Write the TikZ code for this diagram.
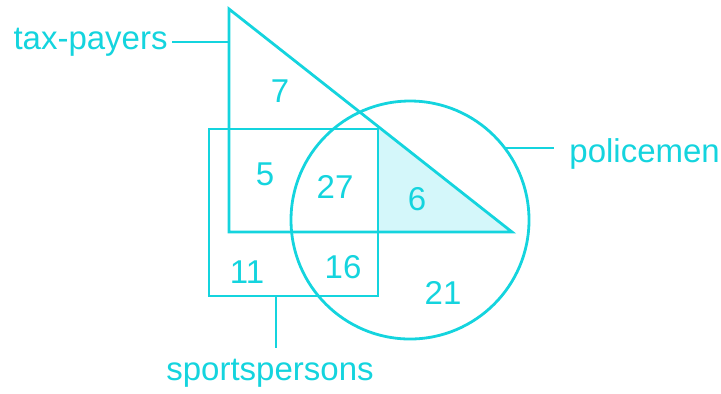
\documentclass[tikz,border=0pt]{standalone}
\usepackage{fontspec}
\setmainfont{Liberation Sans}
\usepackage{xcolor}
\definecolor{venncyan}{RGB}{20, 212, 222}
\definecolor{vennfill}{RGB}{212, 247, 250}
\usetikzlibrary{positioning, calc}

\begin{document}
\begin{tikzpicture}[
    x=0.5pt, y=-0.5pt,
    setline/.style={draw=venncyan, line width=1.4pt},
    lead/.style={draw=venncyan, line width=1.4pt},
    lbl/.style={text=venncyan, inner sep=0pt, font=\fontsize{16.5}{20}\selectfont},
    num/.style={lbl, anchor=base}
]
\useasboundingbox (0,0) rectangle (721,393);

% ==================== SHADED REGION ====================
\fill[vennfill] (378,126.4) -- (378,232) -- (512,232) -- cycle;

% ==================== SETS ====================
\draw[setline] (229,9) -- (229,232) -- (512,232) -- cycle;
\draw[setline] (209,129) rectangle (378,296);
\draw[setline] (410,220) circle[radius=119];

% ==================== NAMES ====================
\node[lbl, anchor=base east] (taxpayers) at (168,49) {tax-payers};
\coordinate (tax_end) at (229,42);
\draw[lead] (taxpayers.east |- tax_end) ++(4,0) -- (tax_end);

\node[lbl, anchor=base west] (police) at (569,162) {policemen};
\coordinate (police_end) at (505,148);
\draw[lead] (police_end) -- ($(police.west |- police_end)+(-15,0)$);

\node[lbl, anchor=base] (sport) at (270,380) {sportspersons};
\coordinate (sport_end) at (276,296);
\draw[lead] (sport_end) -- (276,348);

% ==================== COUNTS ====================
\node[num] (n7) at (280,102) {7};
\node[num] (n5) at (265,185) {5};
\node[num] (n27) at (335,198) {27};
\node[num] (n6) at (417,210) {6};
\node[num] (n11) at (247,283) {11};
\node[num] (n16) at (343,278) {16};
\node[num] (n21) at (443,304) {21};

\end{tikzpicture}
\end{document}
